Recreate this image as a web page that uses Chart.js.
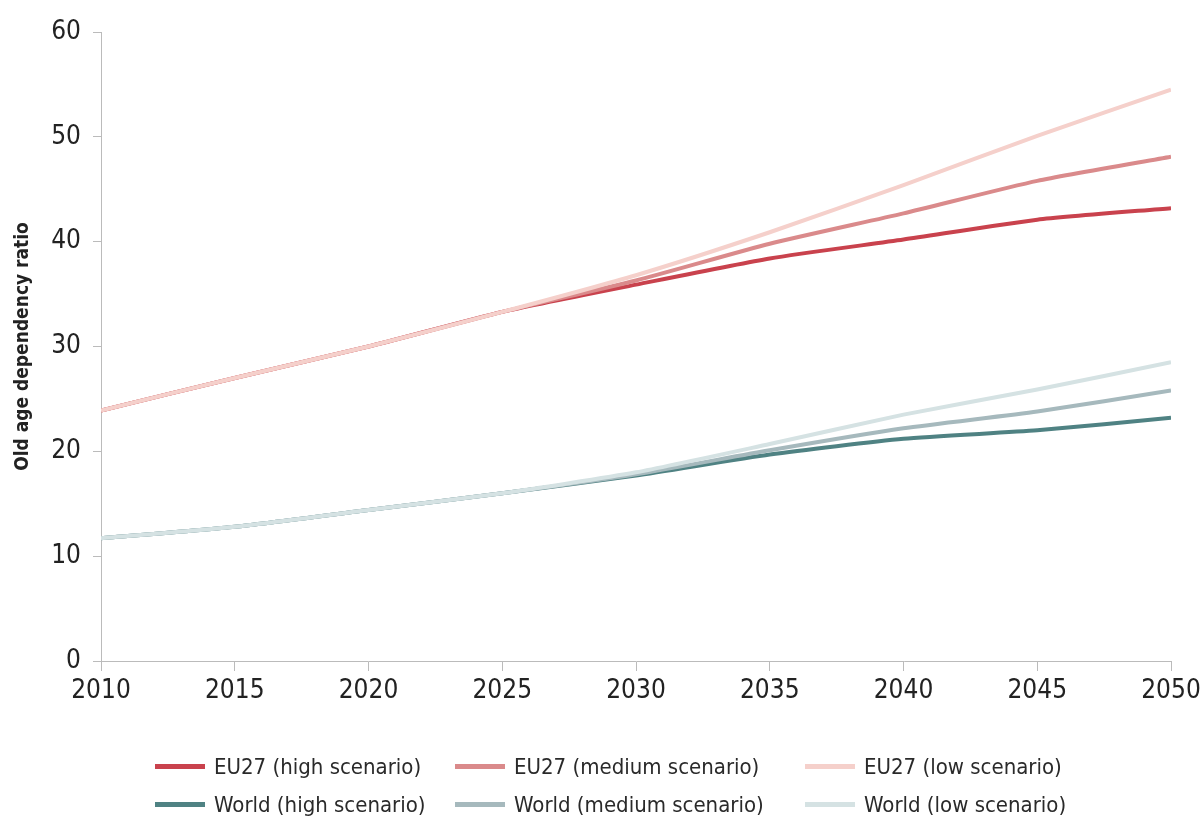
<!DOCTYPE html>
<html>
<head>
<meta charset="utf-8">
<script src="https://cdn.jsdelivr.net/npm/chart.js@4.4.1/dist/chart.umd.min.js"></script>
<style>
  html, body { margin: 0; padding: 0; background: #fff; }
  #wrap { position: relative; width: 1200px; height: 823px; }
  #legend {
    position: absolute; left: 155px; top: 753px;
    display: grid; grid-template-columns: 300px 350px 300px;
    row-gap: 12px;
    font-family: "Liberation Sans Narrow", "DejaVu Sans Condensed", sans-serif;
    font-size: 22px; color: #2a2a2a;
  }
  .item { display: flex; align-items: center; height: 26px; }
  .swatch { width: 50px; height: 5px; margin-right: 9px; }
</style>
</head>
<body>
<div id="wrap">
  <canvas id="ageChart" width="1200" height="823"></canvas>
  <div id="legend"></div>
</div>
<script>
const years = [2010, 2015, 2020, 2025, 2030, 2035, 2040, 2045, 2050];
const yTicks = [0, 10, 20, 30, 40, 50, 60];

const eu27High   = [23.9, 27.0, 30.0, 33.3, 35.9, 38.4, 40.2, 42.1, 43.2];
const eu27Medium = [23.9, 27.0, 30.0, 33.3, 36.3, 39.8, 42.7, 45.8, 48.1];
const eu27Low    = [23.9, 27.0, 30.0, 33.3, 36.8, 40.9, 45.4, 50.1, 54.5];
const worldHigh   = [11.7, 12.8, 14.4, 16.0, 17.7, 19.7, 21.2, 22.0, 23.2];
const worldMedium = [11.7, 12.8, 14.4, 16.0, 17.8, 20.1, 22.2, 23.8, 25.8];
const worldLow    = [11.7, 12.8, 14.4, 16.0, 18.0, 20.7, 23.5, 25.9, 28.5];

const FONT = "'Liberation Sans Narrow', 'DejaVu Sans Condensed', sans-serif";

function series(label, values, color, order) {
  return {
    label,
    data: values.map((v, i) => ({ x: years[i], y: v })),
    borderColor: color,
    backgroundColor: color,
    borderWidth: 4,
    pointRadius: 0,
    tension: 0.2,
    order,
  };
}

const datasets = [
  series("EU27 (high scenario)", eu27High, "#c9424d", 5),
  series("EU27 (medium scenario)", eu27Medium, "#da8a8b", 4),
  series("EU27 (low scenario)", eu27Low, "#f5d0cb", 3),
  series("World (high scenario)", worldHigh, "#4f8283", 2),
  series("World (medium scenario)", worldMedium, "#a6b9bd", 1),
  series("World (low scenario)", worldLow, "#d5e2e3", 0),
];

const chart = new Chart(document.getElementById("ageChart").getContext("2d"), {
  type: "line",
  data: { datasets },
  options: {
    responsive: false,
    animation: false,
    layout: { padding: { top: 32, right: 29, left: 12, bottom: 0 } },
    plugins: { legend: { display: false }, tooltip: { enabled: false } },
    scales: {
      x: {
        type: "linear",
        min: 2010,
        max: 2050,
        afterBuildTicks: (s) => { s.ticks = years.map((v) => ({ value: v })); },
        afterFit: (s) => { s.height = 162; s.paddingRight = 0; s.paddingLeft = 0; },
        ticks: {
          color: "#222",
          font: { family: FONT, size: 26 },
          padding: 5,
          maxRotation: 0,
          callback: (v) => String(v),
        },
        grid: { drawOnChartArea: false, drawTicks: true, tickLength: 10, color: "#bbb" },
        border: { display: true, color: "#bbb" },
      },
      y: {
        min: 0,
        max: 60,
        afterBuildTicks: (s) => { s.ticks = yTicks.map((v) => ({ value: v })); },
        afterFit: (s) => { s.width = 89; s.paddingTop = 0; s.paddingBottom = 0; },
        ticks: {
          color: "#222",
          font: { family: FONT, size: 26 },
          padding: 12,
        },
        title: {
          display: true,
          text: "Old age dependency ratio",
          color: "#222",
          font: { family: FONT, size: 19, weight: "bold" },
          padding: { top: 0, bottom: 4 },
        },
        grid: { drawOnChartArea: false, drawTicks: true, tickLength: 8, color: "#bbb" },
        border: { display: true, color: "#bbb" },
      },
    },
  },
});

// legend in the chart's three-column layout
const legendEl = document.getElementById("legend");
chart.data.datasets.forEach((ds) => {
  const item = document.createElement("div");
  item.className = "item";
  item.innerHTML = '<span class="swatch" style="background:' + ds.borderColor + '"></span>' + ds.label;
  legendEl.appendChild(item);
});
</script>
</body>
</html>
